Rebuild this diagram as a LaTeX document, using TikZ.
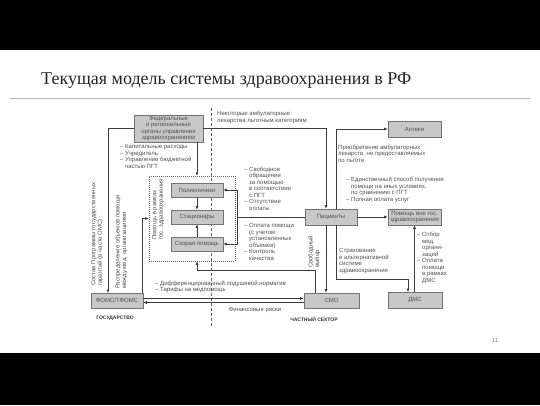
\documentclass[tikz,border=0pt]{standalone}
\usepackage{fontspec}
\newfontfamily\dsans{Liberation Sans}
\newfontfamily\tserif{Liberation Serif}
\usetikzlibrary{arrows.meta,calc}
\definecolor{boxc}{RGB}{200,200,200}
\definecolor{bordc}{RGB}{115,115,115}
\definecolor{linec}{RGB}{60,60,60}
\definecolor{txtc}{RGB}{80,80,80}
\newcommand\dfont{\dsans\fontsize{6}{6.5}\selectfont}
\newcommand\hd{\phantom{– }}
\tikzset{
  box/.style={draw=bordc, fill=boxc, line width=0.6pt, inner sep=0pt, font=\dfont, text=txtc, align=center},
  lbl/.style={font=\dfont, text=txtc, align=left, inner sep=0pt},
  bold/.style={font=\dsans\bfseries\fontsize{5}{6}\selectfont, text=black!80, inner sep=0pt},
  conn/.style={draw=linec, line width=0.6pt},
  arr/.style={conn, -{Latex[length=3.5pt,width=3pt]}},
}
\begin{document}
\begin{tikzpicture}[x=1pt,y=-1pt]
\fill[black] (0,0) rectangle (540,405);
\fill[white] (0,50) rectangle (540,353);
\useasboundingbox (0,0) rectangle (540,405);

% title
\node[anchor=base west, font=\tserif\fontsize{18}{21}\selectfont, text=black!85, inner sep=0pt] (title) at (41,84) {Текущая модель системы здравоохранения в РФ};
\coordinate (hl1) at (10,98.5);
\coordinate (hl2) at (530,98.5);
\draw[gray!60, line width=0.8pt] (hl1) -- (hl2);

% divider
\coordinate (dv1) at (211,108);
\coordinate (dv2) at (211,326);
\draw[linec!80, line width=0.6pt, dash pattern=on 3pt off 2pt] (dv1) -- (dv2);

% boxes
\node[box, minimum width=69pt, minimum height=27pt, font=\dsans\fontsize{6}{6.3}\selectfont] (fed) at (168.5,128.5) {Федеральные\\и региональные\\органы управления\\здравоохранением};
\node[box, minimum width=53pt, minimum height=16pt] (apt) at (414.5,129) {Аптеки};
\node[draw=linec!80, line width=0.5pt, dash pattern=on 1pt off 1pt, minimum width=86pt, minimum height=85pt, inner sep=0pt] (dbox) at (192,218.5) {};
\node[box, minimum width=52pt, minimum height=14pt] (pol) at (197,190) {Поликлиники};
\node[box, minimum width=52pt, minimum height=14pt] (stac) at (197,217) {Стационары};
\node[box, minimum width=52pt, minimum height=14pt] (skor) at (197,244) {Скорая помощь};
\node[box, minimum width=52pt, minimum height=16pt] (pac) at (331,217) {Пациенты};
\node[box, minimum width=53pt, minimum height=16pt, font=\dsans\fontsize{6}{6.3}\selectfont] (vne) at (414.5,217) {Помощь вне гос.\\здравоохранения};
\node[box, minimum width=52pt, minimum height=15pt] (foms) at (117,300.5) {ФОМС/ТФОМС};
\node[box, minimum width=55pt, minimum height=15pt] (smo) at (331.5,300.5) {СМО};
\node[box, minimum width=54pt, minimum height=16pt] (dms) at (415,300) {ДМС};

% connector coordinates
\coordinate (fomsTopL) at (108,293);
\coordinate (pacA) at (326,217);
\coordinate (pacB) at (336,217);
\coordinate (br) at (237,217);
\coordinate (smoTopL) at (315,293);
\coordinate (smoUp) at (315,270);
\coordinate (ins) at (336,279);
\coordinate (dmsTopL) at (408,292);

% connectors
\draw[arr] (fed.west) -| (fomsTopL);
\draw[arr] (fed.east) -| (pac.north -| pacA);
\draw[arr] (pac.north -| pacB) |- (apt.west);
\draw[arr] (fed.south -| pol.north) -- (pol.north |- dbox.north);
\draw[arr] (pol) -- (stac);
\draw[arr] (skor) -- (stac);
\draw[conn] (pac.west) -- (br);
\draw[arr] (br) |- (pol.east);
\draw[arr] (br) |- (skor.east);
\draw[arr] ([xshift=-1.5pt]foms.north east) |- (dbox.west);
\draw[arr] ([yshift=2pt]foms.east) -- ([yshift=2pt]foms.east -| smo.west);
\draw[arr] ([yshift=-2pt]smo.west) -- ([yshift=-2pt]smo.west -| foms.east);
\draw[arr] (smoTopL) -- (smoUp) -| (dbox.south -| skor.south);
\draw[arr] (pac.south -| pacA) -- (smo.north -| pacA);
\draw[arr] (pac.south -| pacB) -- (ins) -| (dmsTopL);
\draw[arr] (pac.east) -- (vne.west);
\draw[arr] (dms.north -| vne.south) -- (vne.south);

% labels
\node[lbl, anchor=north west] (t1) at (217,111) {Некоторые амбулаторные\\лекарства льготным категориям};
\node[lbl, anchor=north west] (t2) at (120,144.5) {– Капитальные расходы\\– Учредитель\\– Управление бюджетной\\\hd частью ПГТ};
\node[lbl, anchor=north west] (t3) at (338,144.5) {Приобретение амбулаторных\\лекарств, не предоставляемых\\по льготе};
\node[lbl, anchor=north west] (t4) at (346,177) {– Единственный способ получения\\\hd помощи на иных условиях,\\\hd по сравнению с ПГТ\\– Полная оплата услуг};
\node[lbl, anchor=north west] (t5) at (244,166.5) {– Свободное\\\hd обращение\\\hd за помощью\\\hd в соответствии\\\hd с ПГТ\\– Отсутствие\\\hd оплаты};
\node[lbl, anchor=north west] (t6) at (244,223.5) {– Оплата помощи\\\hd (с учетом\\\hd установленных\\\hd объемов)\\– Контроль\\\hd качества};
\node[lbl, anchor=north west] (t7) at (339,248.5) {Страхование\\в альтернативной\\системе\\здравоохранения};
\node[lbl, anchor=north west] (t8) at (417,232) {– Отбор\\\hd мед.\\\hd органи-\\\hd заций\\– Оплата\\\hd помощи\\\hd в рамках\\\hd ДМС};
\node[lbl, anchor=north west] (t9) at (155,280.5) {– Дифференцированный подушевой норматив\\– Тарифы на медпомощь};
\node[lbl] (t10) at (255,310) {Финансовые риски};
\node[lbl, rotate=90, anchor=north west] (t11) at (308,268) {Свободный\\выбор};
\node[lbl, rotate=90, anchor=north west] (t12) at (152,240) {Помощь в рамках\\гос. здравоохранения};
\node[lbl, rotate=90, anchor=north west] (t13) at (91,286) {Состав Программы государственных\\гарантий (в части ОМС)};
\node[lbl, rotate=90, anchor=north west] (t14) at (115,289) {Распределение объемов помощи\\между мед. организациями};
\node[bold] (gos) at (115,318) {ГОСУДАРСТВО};
\node[bold] (chs) at (314,319) {ЧАСТНЫЙ СЕКТОР};
\node[font=\dsans\fontsize{6}{7}\selectfont, text=gray, inner sep=0pt] (pnum) at (495,340) {11};
\end{tikzpicture}
\end{document}
